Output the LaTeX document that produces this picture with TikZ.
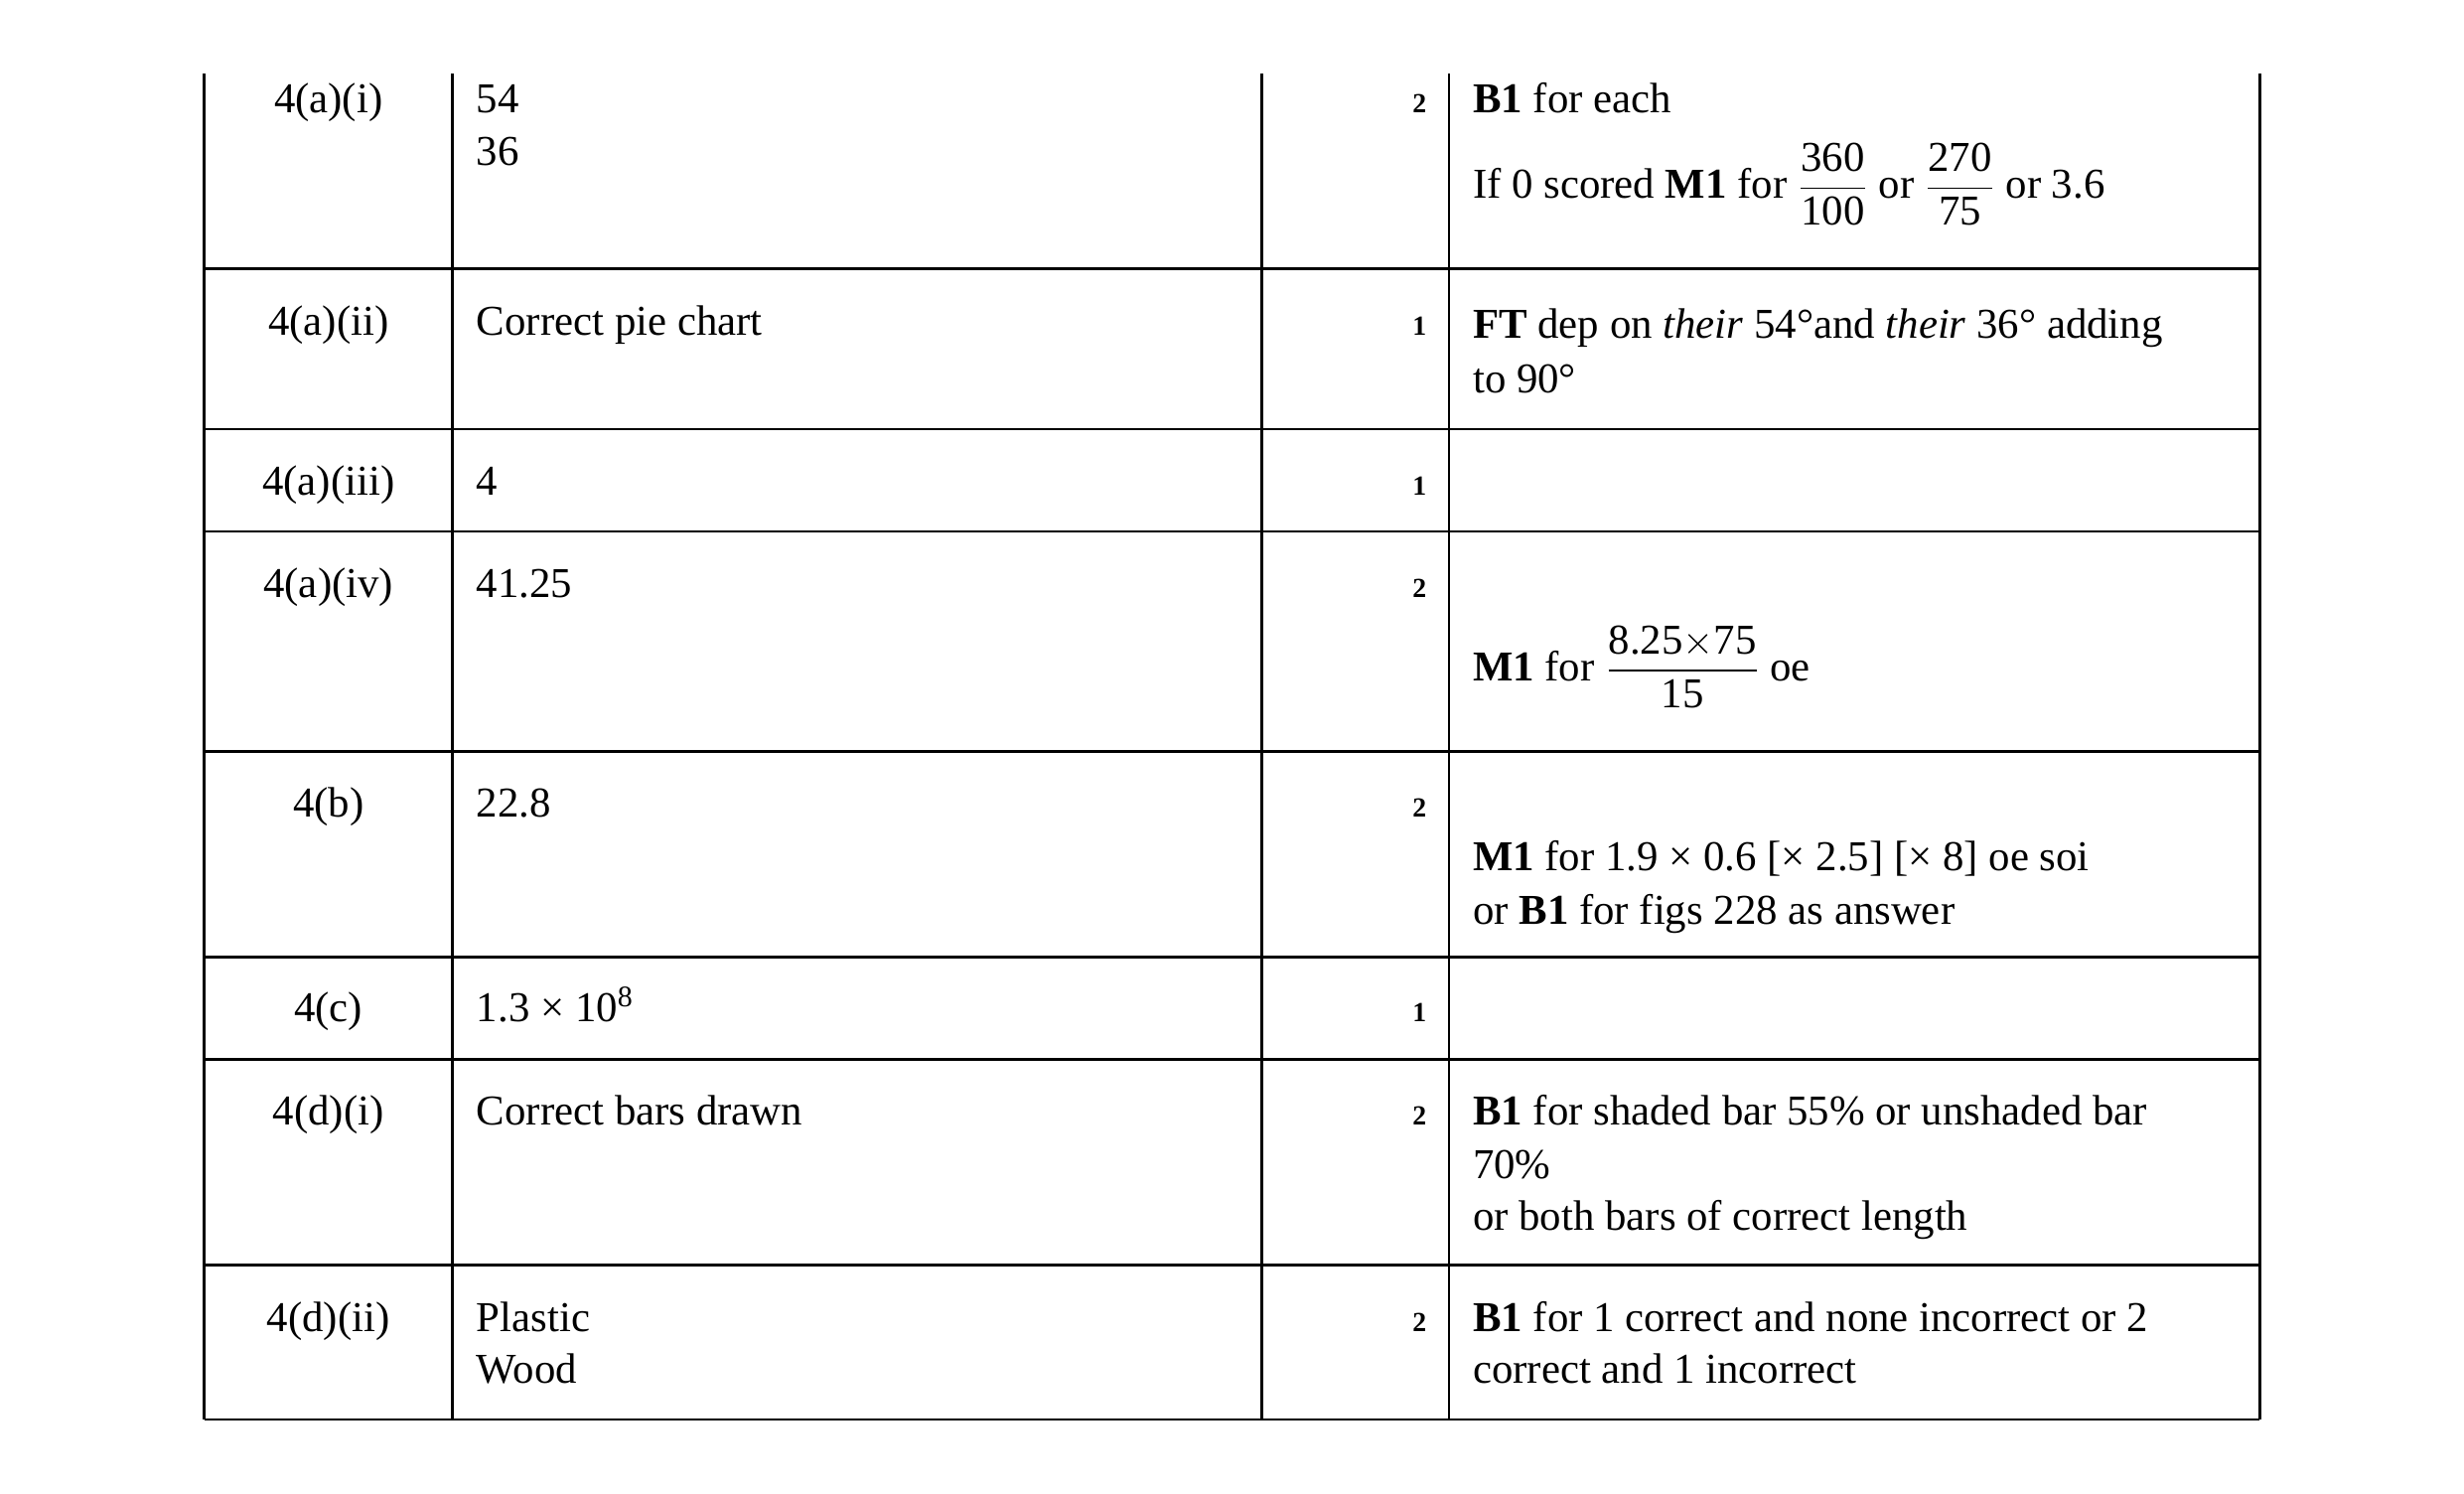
\documentclass[tikz,border=0pt]{standalone}
\usepackage{amsmath}
\usepackage{fontspec}
\setmainfont{Liberation Serif}
\tikzset{
  cell/.style={anchor=base west,inner sep=0pt},
  qno/.style={anchor=base,inner sep=0pt},
  score/.style={anchor=base east,inner sep=0pt,font=\bfseries},
  rule/.style={line width=0.9pt}
}
\newcommand{\fr}[2]{$\dfrac{\text{#1}}{\text{#2}}$}
\begin{document}
\begin{tikzpicture}[x=0.02cm,y=-0.02cm,font=\fontsize{15.4}{18}\selectfont]
\useasboundingbox (0,0) rectangle (1568,950.5);
% grid
\foreach \x in {130,288,803,922,1438}
  \draw[rule] (\x,47) -- (\x,903);
\foreach \y in {171,273,338,478,609,674,805,903}
  \draw[rule] (130,\y) -- (1438,\y);
% row 1
\node[qno] (q1) at (209,72) {4(a)(i)};
\node[cell] (a1) at (303,72) {54};
\node[cell] (a1b) at (303,105) {36};
\node[score] (m1) at (908,72) {2};
\node[cell] (g1) at (937,72) {\textbf{B1} for each};
\node[cell] (g1b) at (937,126) {If 0 scored \textbf{M1} for \fr{360}{100} or \fr{270}{75} or 3.6};
% row 2
\node[qno] (q2) at (209,213) {4(a)(ii)};
\node[cell] (a2) at (303,213) {Correct pie chart};
\node[score] (m2) at (908,213) {1};
\node[cell] (g2) at (937,215) {\textbf{FT} dep on \textit{their} 54°and \textit{their} 36° adding};
\node[cell] (g2b) at (937,250) {to 90°};
% row 3
\node[qno] (q3) at (209,315) {4(a)(iii)};
\node[cell] (a3) at (303,315) {4};
\node[score] (m3) at (908,315) {1};
% row 4
\node[qno] (q4) at (209,380) {4(a)(iv)};
\node[cell] (a4) at (303,380) {41.25};
\node[score] (m4) at (908,380) {2};
\node[cell] (g4) at (937,433) {\textbf{M1} for \fr{8.25$\times$75}{15} oe};
% row 5
\node[qno] (q5) at (209,520) {4(b)};
\node[cell] (a5) at (303,520) {22.8};
\node[score] (m5) at (908,520) {2};
\node[cell] (g5) at (937,554) {\textbf{M1} for 1.9 × 0.6 [× 2.5] [× 8] oe soi};
\node[cell] (g5b) at (937,588) {or \textbf{B1} for figs 228 as answer};
% row 6
\node[qno] (q6) at (209,650) {4(c)};
\node[cell] (a6) at (303,650) {1.3 × 10\textsuperscript{8}};
\node[score] (m6) at (908,650) {1};
% row 7
\node[qno] (q7) at (209,716) {4(d)(i)};
\node[cell] (a7) at (303,716) {Correct bars drawn};
\node[score] (m7) at (908,716) {2};
\node[cell] (g7) at (937,716) {\textbf{B1} for shaded bar 55\% or unshaded bar};
\node[cell] (g7b) at (937,750) {70\%};
\node[cell] (g7c) at (937,783) {or both bars of correct length};
% row 8
\node[qno] (q8) at (209,847) {4(d)(ii)};
\node[cell] (a8) at (303,847) {Plastic};
\node[cell] (a8b) at (303,880) {Wood};
\node[score] (m8) at (908,847) {2};
\node[cell] (g8) at (937,847) {\textbf{B1} for 1 correct and none incorrect or 2};
\node[cell] (g8b) at (937,880) {correct and 1 incorrect};
\end{tikzpicture}
\end{document}
